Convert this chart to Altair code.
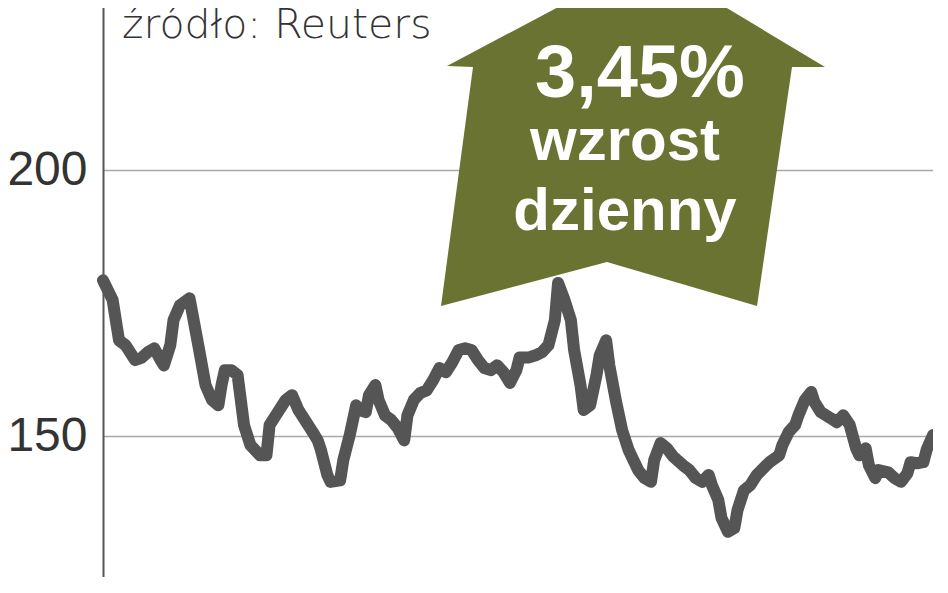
import altair as alt
import pandas as pd

# trading-day index and closing value
days = [0, 3, 5, 7, 8, 10, 12, 14, 16, 18, 19, 21, 22, 24, 27, 28, 30, 32, 34, 36,
        37, 38, 40, 42, 43, 44, 46, 49, 51, 52, 55, 57, 59, 61, 64, 66, 67, 68, 70, 71,
        74, 75, 77, 79, 80, 82, 83, 85, 86, 88, 90, 92, 94, 95, 97, 99, 101, 103, 105, 107,
        109, 111, 113, 115, 117, 119, 121, 123, 125, 127, 129, 130, 133, 135, 137, 139, 141, 142, 144, 146,
        147, 149, 150, 152, 154, 155, 157, 158, 160, 162, 164, 167, 169, 171, 172, 174, 176, 178, 181, 183,
        185, 187, 189, 190, 192, 193, 195, 197, 198, 200, 202, 204, 207, 208, 211, 212, 214, 216, 217, 219,
        221, 222, 224, 227, 229, 231, 233, 235, 236, 238, 239, 241, 242, 245, 247, 249, 251, 252, 254, 256,
        257, 259]
values = [179.3, 175.6, 168.0, 167.1, 166.2, 164.3, 164.7, 165.8, 166.5, 164.3, 163.3, 167.1, 171.8, 174.6, 175.9, 172.7, 166.2, 159.6, 156.8, 155.8,
          159.6, 162.4, 162.4, 161.5, 156.8, 152.1, 148.3, 146.4, 146.4, 152.1, 154.9, 156.8, 157.7, 154.9, 152.1, 150.2, 149.2, 147.4, 142.7, 141.4,
          141.7, 145.5, 150.2, 155.8, 154.9, 154.5, 157.7, 159.6, 156.8, 153.9, 153.0, 151.5, 149.2, 153.9, 156.8, 158.1, 158.6, 160.5, 162.8, 162.0,
          163.9, 166.2, 166.5, 166.2, 164.3, 162.8, 162.4, 163.3, 162.0, 160.0, 162.4, 164.8, 164.8, 165.2, 165.8, 167.1, 171.8, 178.8, 175.6, 171.8,
          166.2, 159.6, 154.9, 155.8, 161.5, 165.2, 168.0, 163.3, 156.8, 151.1, 147.4, 143.6, 142.1, 141.4, 145.5, 148.7, 147.7, 146.1, 144.5, 143.6,
          142.1, 141.4, 142.7, 140.8, 138.0, 134.6, 132.0, 132.7, 136.1, 139.8, 140.8, 142.7, 144.5, 145.1, 146.4, 148.3, 150.8, 152.1, 153.9, 156.8,
          158.3, 156.4, 154.5, 153.4, 152.6, 153.9, 152.1, 147.7, 146.4, 147.7, 144.5, 142.1, 143.6, 143.2, 142.1, 141.4, 143.0, 145.1, 144.9, 145.1,
          147.4, 150.2]
y_ticks = [150, 200]
source_text = "źródło: Reuters"
badge_lines = ["3,45%", "wzrost", "dzienny"]

df = pd.DataFrame({"dzien": days, "kurs": values})
one = pd.DataFrame({"a": [0]})

x_enc = alt.X("dzien:Q", scale=alt.Scale(domain=[0, 259], nice=False, zero=False), axis=None)
y_enc = alt.Y(
    "kurs:Q",
    scale=alt.Scale(domain=[120.5, 232], nice=False, zero=False),
    axis=alt.Axis(
        values=y_ticks, title=None, grid=True, gridColor="#a8a8a8", gridWidth=1.5,
        domain=True, domainColor="#555555", domainWidth=2, ticks=False,
        labelFont="Liberation Sans", labelFontSize=48, labelColor="#333333",
        labelPadding=16, labelBaseline="middle",
    ),
)

arrow_path = ("M 0.06 -0.95 L 0.95 -0.415 L 0.785 -0.415 L 0.61 0.78 L -0.14 0.56 "
              "L -0.97 0.78 L -0.81 -0.415 L -0.94 -0.42 Z")

arrow = alt.Chart(one).mark_point(
    shape=arrow_path, size=160000, filled=True, fill="#6b7332", strokeWidth=0, opacity=1
).encode(x=alt.value(532), y=alt.value(150))

line = alt.Chart(df).mark_line(
    color="#555555", strokeWidth=12, strokeCap="round", strokeJoin="round"
).encode(x=x_enc, y=y_enc)

t1 = alt.Chart(one).mark_text(
    text=badge_lines[0], font="Liberation Sans", fontWeight="bold", fontSize=74,
    color="white", align="center", baseline="alphabetic"
).encode(x=alt.value(537), y=alt.value(97))
t2 = alt.Chart(one).mark_text(
    text=badge_lines[1], font="Liberation Sans", fontWeight="bold", fontSize=60,
    color="white", align="center", baseline="alphabetic"
).encode(x=alt.value(522), y=alt.value(160))
t3 = alt.Chart(one).mark_text(
    text=badge_lines[2], font="Liberation Sans", fontWeight="bold", fontSize=60,
    color="white", align="center", baseline="alphabetic"
).encode(x=alt.value(522), y=alt.value(230))
src = alt.Chart(one).mark_text(
    text=source_text, font="DejaVu Sans", fontWeight=300, fontSize=41,
    color="#333333", align="left", baseline="alphabetic"
).encode(x=alt.value(19), y=alt.value(38))

chart = alt.layer(arrow, line, t1, t2, t3, src).properties(
    width=830, height=593,
    autosize=alt.AutoSizeParams(type="none"),
    padding={"left": 95, "top": -8, "right": 0, "bottom": -16},
    background="white",
).configure_view(stroke=None)

chart.save("out.html", embed_options={"renderer": "svg", "actions": False})
